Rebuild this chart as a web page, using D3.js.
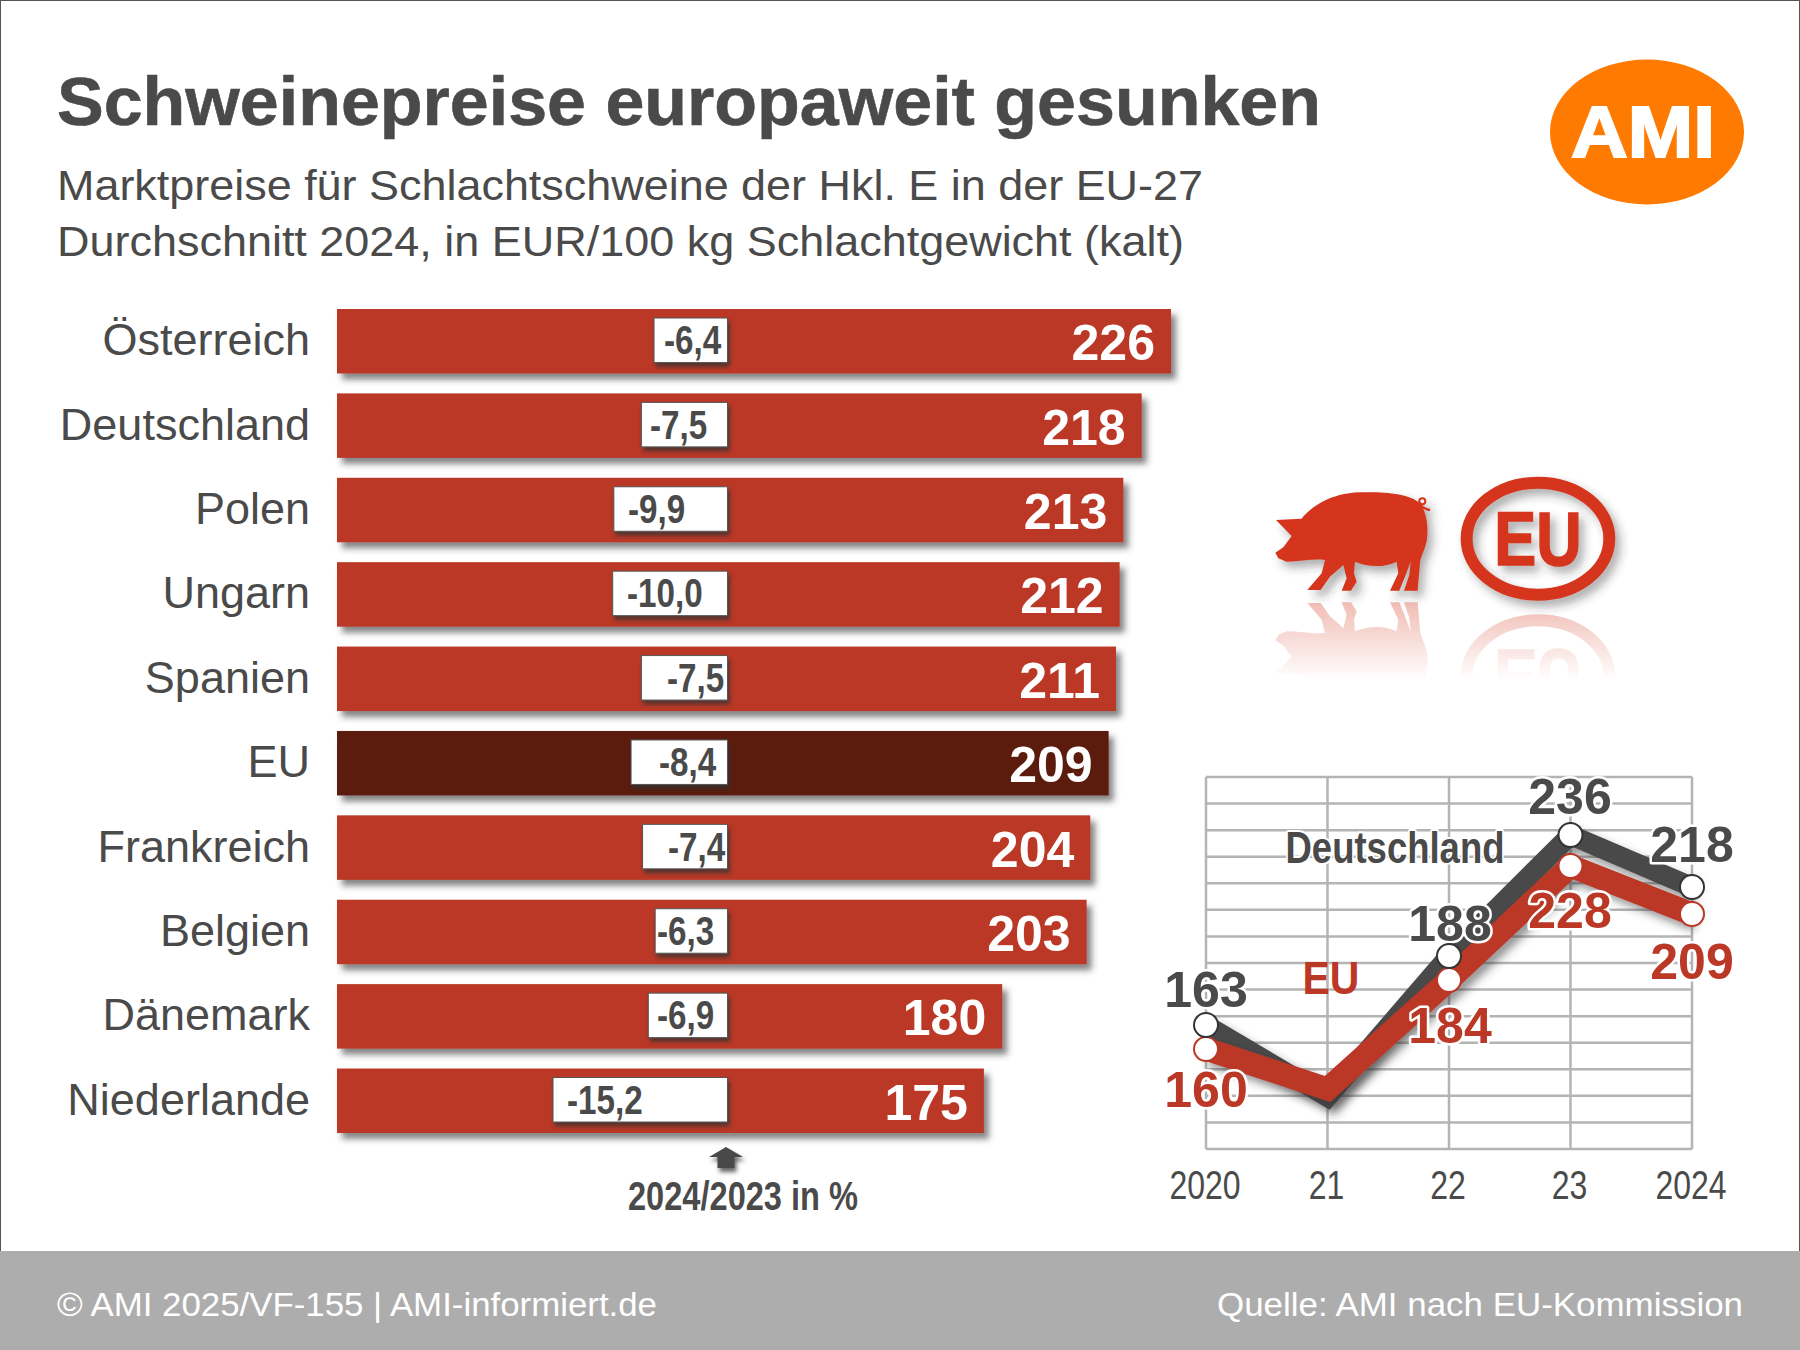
<!DOCTYPE html>
<html><head><meta charset="utf-8">
<script src="https://cdn.jsdelivr.net/npm/d3@7"></script>
<style>html,body{margin:0;padding:0;background:#fff}svg{display:block}text{font-family:"Liberation Sans",Arial,sans-serif}</style>
</head><body><div id="chart"></div>
<script>
// ---- data ----
const countries = ["Österreich","Deutschland","Polen","Ungarn","Spanien","EU","Frankreich","Belgien","Dänemark","Niederlande"];
const prices = [226,218,213,212,211,209,204,203,180,175];
const changes = [-6.4,-7.5,-9.9,-10.0,-7.5,-8.4,-7.4,-6.3,-6.9,-15.2];
const years = [2020,2021,2022,2023,2024];
const yearLabels = ["2020","21","22","23","2024"];
const germany = [163,135,188,236,218];
const eu = [160,145,184,228,209];
// ---- layout ----
const changeTextStart = [664,650,628,627,667,659,668,657,657,567];
const W=1800,H=1350, DARK="#4a4a4a", RED="#bb3726";
const svg=d3.select("#chart").append("svg").attr("width",W).attr("height",H).attr("viewBox",[0,0,W,H]);
const defs=svg.append("defs");
function shadow(id,dx,dy,sd,op){
  defs.append("filter").attr("id",id).attr("x","-20%").attr("y","-40%").attr("width","140%").attr("height","190%")
    .append("feDropShadow").attr("dx",dx).attr("dy",dy).attr("stdDeviation",sd).attr("flood-color","#333").attr("flood-opacity",op);
}
shadow("barS",5,6,3,.6); shadow("boxS",2,4,2,.75); shadow("lineS",5,6,4,.5); shadow("iconS",5,6,5,.4);
svg.append("rect").attr("x",.5).attr("y",.5).attr("width",W-1).attr("height",H-1).attr("fill","#fff").attr("stroke","#555");

const narrow=(sel,r)=>sel.each(function(){const l=this.getComputedTextLength();d3.select(this).attr("textLength",l*r).attr("lengthAdjust","spacingAndGlyphs");});
const T=(x,y,s,size,o={})=>{const t=svg.append("text").attr("x",x).attr("y",y).text(s).attr("font-size",size)
  .attr("fill",o.fill||DARK).attr("font-weight",o.bold?"bold":"normal").attr("text-anchor",o.anchor||"start");
  if(o.halo)t.attr("stroke","#fff").attr("stroke-width",o.halo).attr("paint-order","stroke").attr("stroke-linejoin","round");
  if(o.len)t.attr("textLength",o.len).attr("lengthAdjust","spacingAndGlyphs"); return t;};
// header
T(57,125,"Schweinepreise europaweit gesunken",69,{bold:true,len:1264}).attr("stroke",DARK).attr("stroke-width",.6);
T(57,200,"Marktpreise für Schlachtschweine der Hkl. E in der EU-27",43,{len:1146});
T(57,256,"Durchschnitt 2024, in EUR/100 kg Schlachtgewicht (kalt)",43,{len:1127});

// AMI logo
svg.append("ellipse").attr("cx",1647).attr("cy",132).attr("rx",97).attr("ry",72.5).attr("fill","#ff7a00");
T(1643,157,"AMI",72,{bold:true,fill:"#fff",anchor:"middle",len:144}).attr("stroke","#fff").attr("stroke-width",2);

// bars
const x=d3.scaleLinear().domain([-1.3,226]).range([337,1171]);
const y=d3.scaleBand().domain(countries).range([309,1133]).paddingInner(0.236).paddingOuter(0);
const xc=d3.scaleLinear().domain([0,-15.2]).range([727.5,553]);
const g=svg.append("g");
const rows=g.selectAll("g").data(countries.map((c,i)=>({c,p:prices[i],d:changes[i],sx:changeTextStart[i]}))).join("g");
rows.append("rect").attr("x",x.range()[0]).attr("y",d=>y(d.c)).attr("width",d=>x(d.p)-x.range()[0]).attr("height",y.bandwidth())
  .attr("fill",d=>d.c==="EU"?"#5c1a11":RED).attr("filter","url(#barS)");
rows.append("text").attr("x",310).attr("y",d=>y(d.c)+y.bandwidth()/2+14).attr("text-anchor","end").attr("font-size",45).attr("fill",DARK).text(d=>d.c);
rows.append("text").attr("x",d=>x(d.p)-16).attr("y",d=>y(d.c)+y.bandwidth()/2+19).attr("text-anchor","end").attr("font-size",50).attr("font-weight","bold").attr("fill","#fff").text(d=>d.p);
rows.append("rect").attr("x",d=>xc(d.d)).attr("y",d=>y(d.c)+9).attr("width",d=>xc(0)-xc(d.d)).attr("height",y.bandwidth()-20)
  .attr("fill","#fff").attr("stroke","#555").attr("stroke-width",1).attr("filter","url(#boxS)");
rows.append("text").attr("x",d=>d.sx).attr("y",d=>y(d.c)+y.bandwidth()/2+13).attr("font-size",40).attr("font-weight","bold").attr("fill",DARK)
  .text(d=>d3.format(".1f")(d.d).replace(".",",").replace("−","-")).call(narrow,.83);
// arrow
svg.append("path").attr("fill",DARK).attr("filter","url(#boxS)")
  .attr("d",d3.line()([[726,1147],[743,1157],[734.5,1157],[734.5,1168],[717.5,1168],[717.5,1157],[709,1157]])+"Z");
T(743,1210,"2024/2023 in %",40,{bold:true,anchor:"middle",len:230});

// line chart
const lx=d3.scalePoint().domain(years).range([1206,1692]);
const gridY=d3.scaleLinear().domain([0,14]).range([777,1149]);
const gg=svg.append("g").attr("stroke","#b4b4b4").attr("stroke-width",2.5).attr("fill","none");
gg.selectAll("line.h").data(d3.range(15)).join("line").attr("x1",lx(2020)).attr("x2",lx(2024)).attr("y1",d=>gridY(d)).attr("y2",d=>gridY(d));
gg.selectAll("line.v").data(years).join("line").attr("x1",d=>lx(d)).attr("x2",d=>lx(d)).attr("y1",gridY(0)).attr("y2",gridY(14));
const yDE=d3.scaleLinear().domain([135,163,188,218,236]).range([1097,1025,956,887,835]);
const yEU=d3.scaleLinear().domain([145,160,184,209,228]).range([1089,1049,980,914,866]);
const draw=(vals,sc,col,w)=>svg.append("path").attr("fill","none").attr("stroke",col).attr("stroke-width",w).attr("stroke-linejoin","miter")
    .attr("filter","url(#lineS)").attr("d",d3.line().x((d,i)=>lx(years[i])).y(d=>sc(d))(vals));
draw(germany,yDE,DARK,20); draw(eu,yEU,RED,23);
const lab=(s,xx,yy,fill)=>T(xx,yy,s,50,{bold:true,fill,anchor:"middle",halo:5});
lab(germany[0],1206,1007,DARK); lab(eu[0],1206,1107,RED);
lab(germany[2],1450,941,DARK); lab(eu[2],1450,1043,RED);
lab(germany[3],1570,814,DARK); lab(eu[3],1570,928,RED);
lab(germany[4],1692,862,DARK); lab(eu[4],1692,979,RED);
const mark=(vals,sc,col)=>svg.append("g").selectAll("circle").data(vals.map((v,i)=>({v,i})).filter(d=>d.i!==1)).join("circle")
  .attr("cx",d=>lx(years[d.i])).attr("cy",d=>sc(d.v)).attr("r",12).attr("fill","#fff").attr("stroke",col).attr("stroke-width",2);
mark(eu,yEU,RED); mark(germany,yDE,"#333");
T(1395,863,"Deutschland",44,{bold:true,anchor:"middle",halo:4,len:219});
T(1331,994,"EU",46,{bold:true,fill:RED,anchor:"middle",len:57});
svg.append("g").selectAll("text").data(years).join("text").attr("x",d=>lx(d)-1).attr("y",1199).attr("text-anchor","middle")
  .attr("font-size",40).attr("fill",DARK).text((d,i)=>yearLabels[i]).call(narrow,.8);

// icons (shape coordinates from the artwork)
const ICON="#d4361c";
const grad=defs.append("linearGradient").attr("id","fade").attr("gradientUnits","userSpaceOnUse").attr("x1",0).attr("y1",600).attr("x2",0).attr("y2",680);
grad.append("stop").attr("offset",0).attr("stop-color","#fff").attr("stop-opacity",.34);
grad.append("stop").attr("offset",1).attr("stop-color","#fff").attr("stop-opacity",0);
const m=defs.append("mask").attr("id","fadeM").attr("maskUnits","userSpaceOnUse").attr("x",1250).attr("y",590).attr("width",400).attr("height",110);
m.append("rect").attr("x",1250).attr("y",590).attr("width",400).attr("height",110).attr("fill","url(#fade)");
const PIG="M78,180 L155,176 C185,140 240,100 330,97 C400,95 480,100 510,130 C530,155 537,205 530,245 C522,275 512,290 510,310 L503,392 L462,392 L478,345 L482,305 L465,350 L448,392 L420,392 L445,340 L440,305 C400,325 350,320 315,305 L312,340 L320,365 L303,392 L275,392 L290,355 L280,315 L240,350 L212,390 L172,390 L215,340 L225,300 C190,295 150,305 110,305 L85,295 L76,278 L100,262 L125,228 Z";
const euMark=z=>{
  z.append("ellipse").attr("cx",864).attr("cy",236).attr("rx",214).attr("ry",168).attr("fill","none").attr("stroke",ICON).attr("stroke-width",36);
  z.append("text").attr("x",864).attr("y",315).attr("text-anchor","middle").attr("font-size",230).attr("font-weight","bold").attr("fill",ICON)
    .attr("stroke",ICON).attr("stroke-width",5).attr("textLength",262).attr("lengthAdjust","spacingAndGlyphs").text("EU");
};
const z=svg.append("g").attr("filter","url(#iconS)").append("g").attr("transform","translate(1250,460) scale(.3333)");
z.append("path").attr("d",PIG).attr("fill",ICON);
z.append("path").attr("d","M505,130 C515,140 525,148 540,150").attr("fill","none").attr("stroke",ICON).attr("stroke-width",7);
z.append("circle").attr("cx",517).attr("cy",124).attr("r",9).attr("fill","none").attr("stroke",ICON).attr("stroke-width",6);
euMark(z);
// reflections
const rf=svg.append("g").attr("mask","url(#fadeM)");
rf.append("g").attr("transform","translate(0,1193) scale(1,-1) translate(1250,460) scale(.3333)").append("path").attr("d",PIG).attr("fill",ICON);
euMark(rf.append("g").attr("transform","translate(0,1215) scale(1,-1) translate(1250,460) scale(.3333)"));

// footer
svg.append("rect").attr("x",0).attr("y",1251).attr("width",W).attr("height",99).attr("fill","#adadad");
T(57,1316,"© AMI 2025/VF-155 | AMI-informiert.de",33,{fill:"#fff",len:600});
T(1743,1316,"Quelle: AMI nach EU-Kommission",33,{fill:"#fff",anchor:"end",len:526});
</script></body></html>
